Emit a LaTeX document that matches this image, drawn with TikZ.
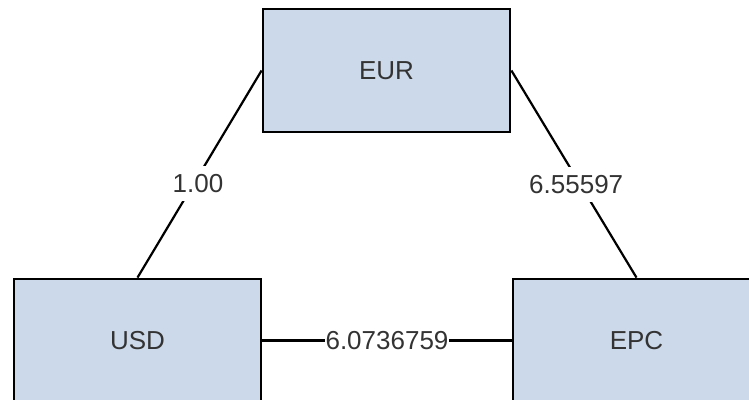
\documentclass[tikz,border=0pt]{standalone}
\usepackage{fontspec}
\setmainfont{Liberation Sans}
\definecolor{boxfill}{RGB}{204,217,234}
\definecolor{txt}{RGB}{51,51,51}
\begin{document}
\begin{tikzpicture}[x=1pt,y=-1pt,
  cur/.style={draw=black, line width=2.8pt, fill=boxfill, minimum width=247pt, minimum height=123pt, inner sep=0pt, font=\fontsize{26}{30}\selectfont, text=txt},
  link/.style={draw=black, line width=2.2pt},
  rate/.style={fill=white, inner xsep=0.5pt, inner ysep=8pt, font=\fontsize{26}{30}\selectfont, text=txt}]
\useasboundingbox (0,0) rectangle (749,399);
\begin{scope}
\clip (0,0) rectangle (749,399);
\node[cur] (eur) at (386.5,70.5) {EUR};
\node[cur] (usd) at (137.5,340.5) {USD};
\node[cur] (epc) at (636.5,340.5) {EPC};
\draw[link] (usd.north) -- node[rate, pos=0.455, xshift=4pt] {1.00} (eur.west);
\draw[link] (eur.east) -- node[rate, pos=0.55, xshift=-4pt] {6.55597} (epc.north);
\draw[link] (usd.east) -- node[rate, pos=0.5] {6.0736759} (epc.west);
\end{scope}
\end{tikzpicture}
\end{document}
